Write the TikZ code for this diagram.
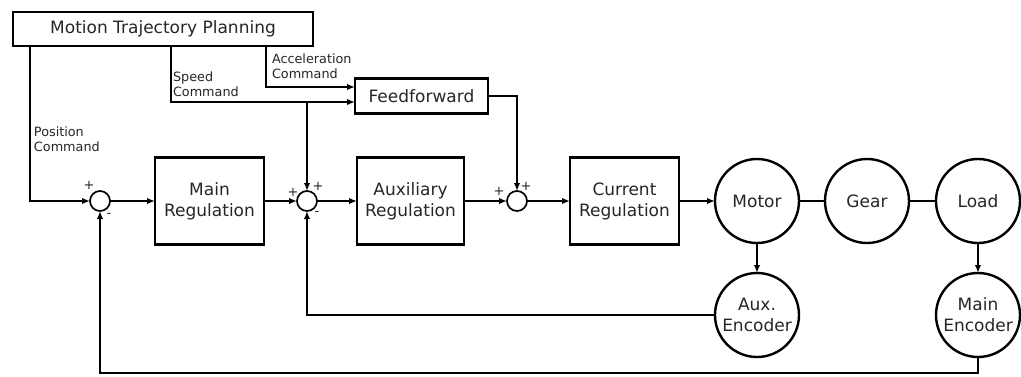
\documentclass[tikz,border=0pt]{standalone}
\usepackage{fontspec}
\setmainfont{DejaVu Sans}
\usetikzlibrary{arrows.meta,positioning}

\begin{document}
\begin{tikzpicture}[x=1pt,y=-1pt,node distance=30pt and 30pt,
    every node/.style={align=center,text=black!85,outer sep=0pt,font=\fontsize{17}{21}\selectfont},
    bar/.style={draw,line width=2.8pt,inner sep=0pt},
    blk/.style={draw,line width=2.8pt,minimum width=109pt,minimum height=87pt,inner sep=0pt},
    plant/.style={draw,circle,line width=2.4pt,minimum size=84pt,inner sep=0pt},
    sumpt/.style={draw,circle,line width=1.7pt,minimum size=20pt,inner sep=0pt},
    sig/.style={-{Latex[length=8pt,width=6.5pt]},line width=1.7pt},
    cmd/.style={font=\fontsize{12.8}{15}\selectfont,anchor=west,align=left,inner sep=0pt},
    sgn/.style={font=\fontsize{13}{13}\selectfont,inner sep=0pt}]
    \useasboundingbox (0,0) rectangle (1021,376);
    \node[bar,minimum width=300pt,minimum height=34pt] (plan) at (163,29) {Motion Trajectory Planning};
    \node[sumpt] (sumA) at (100,201) {};
    \node[blk,right=45pt of sumA] (mainreg) {Main\\Regulation};
    \node[sumpt,right=33pt of mainreg] (sumB) {};
    \node[blk,minimum width=107pt,right=40pt of sumB] (auxreg) {Auxiliary\\Regulation};
    \node[sumpt,right=43pt of auxreg] (sumC) {};
    \node[blk,right=43pt of sumC] (curreg) {Current\\Regulation};
    \node[plant,right=36pt of curreg] (motor) {Motor};
    \node[plant,right=26pt of motor] (gear) {Gear};
    \node[plant,right=27pt of gear] (load) {Load};
    \node[plant,below=of motor] (auxenc) {Aux.\\Encoder};
    \node[plant,below=of load] (mainenc) {Main\\Encoder};
    \node[bar,minimum width=133pt,minimum height=35pt,above=44pt of auxreg,xshift=11pt] (ff) {Feedforward};
    \coordinate (ffspd) at ([yshift=-6pt]ff.west);
    \coordinate (ffacc) at ([yshift=9pt]ff.west);
    % command labels
    \node[cmd] (poslbl) at (34,139) {Position\\Command};
    \node[cmd] (spdlbl) at (173,84) {Speed\\Command};
    \node[cmd] (acclbl) at (272,66) {Acceleration\\Command};
    % signs at the summing points
    \node[sgn] (sA1) at ([shift={(-11,-16)}]sumA) {+};
    \node[sgn] (sA2) at ([shift={(9,14)}]sumA) {-};
    \node[sgn] (sB1) at ([shift={(-14,-9)}]sumB) {+};
    \node[sgn] (sB2) at ([shift={(11,-15)}]sumB) {+};
    \node[sgn] (sB3) at ([shift={(10,12)}]sumB) {-};
    \node[sgn] (sC1) at ([shift={(-18,-10)}]sumC) {+};
    \node[sgn] (sC2) at ([shift={(9,-15)}]sumC) {+};
    % connectors
    \draw[sig] ([xshift=17pt]plan.south west) |- (sumA.west);
    \draw[sig] ([xshift=158pt]plan.south west) |- (ffspd);
    \draw[sig] ([xshift=253pt]plan.south west) |- (ffacc);
    \draw[sig] (ffspd -| sumB.north) -- (sumB.north);
    \foreach \x/\y in {sumA/mainreg,mainreg/sumB,sumB/auxreg,auxreg/sumC,sumC/curreg,curreg/motor}{\draw[sig] (\x)--(\y);}
    \draw[line width=1.7pt] (motor)--(gear) (gear)--(load);
    \draw[sig] (motor)--(auxenc);
    \draw[sig] (load)--(mainenc);
    \draw[sig] (ff.east) -| (sumC.north);
    \draw[sig] (auxenc.west) -| (sumB.south);
    \draw[sig] (mainenc.south) -- ++(0,16) -| (sumA.south);
\end{tikzpicture}
\end{document}
